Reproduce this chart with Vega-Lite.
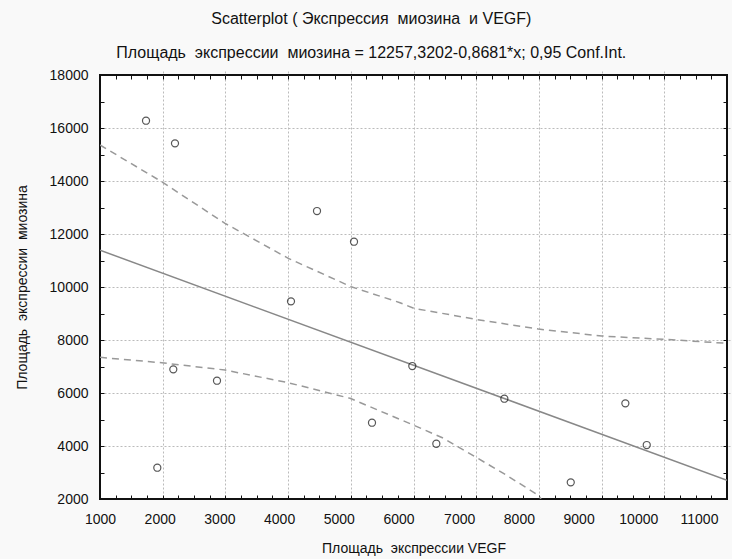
{
  "$schema": "https://vega.github.io/schema/vega-lite/v6.json",
  "width": 627,
  "height": 424,
  "autosize": {"type": "none"},
  "padding": {"left": 100, "top": 75, "right": 5, "bottom": 60},
  "background": "#f9f9f9",
  "config": {
    "font": "Liberation Sans, sans-serif",
    "view": {"fill": "white", "stroke": "#111", "strokeWidth": 2},
    "axis": {
      "labelFont": "Liberation Sans, sans-serif",
      "titleFont": "Liberation Sans, sans-serif",
      "labelFontSize": 14,
      "titleFontSize": 14,
      "titleFontWeight": "normal",
      "labelColor": "#111",
      "titleColor": "#111",
      "domain": false,
      "tickColor": "#111",
      "tickSize": 4,
      "offset": -4,
      "labelFlush": false,
      "gridColor": "#bbbbbb",
      "gridDash": [2, 2],
      "gridWidth": 1
    }
  },
  "title": {
    "text": "Scatterplot ( Экспрессия \u00a0миозина \u00a0и VEGF)",
    "subtitle": "Площадь \u00a0экспрессии \u00a0миозина = 12257,3202-0,8681*x; 0,95 Conf.Int.",
    "anchor": "middle",
    "frame": "bounds",
    "font": "Liberation Sans, sans-serif",
    "subtitleFont": "Liberation Sans, sans-serif",
    "fontSize": 16,
    "subtitleFontSize": 16,
    "fontWeight": "normal",
    "color": "#111",
    "subtitleColor": "#111",
    "offset": 7,
    "subtitlePadding": 18
  },
  "datasets": {
    "points": [
      {"vegf": 1734, "myosin": 16275},
      {"vegf": 2196, "myosin": 15422},
      {"vegf": 4461, "myosin": 12867},
      {"vegf": 5051, "myosin": 11709},
      {"vegf": 4046, "myosin": 9459},
      {"vegf": 5981, "myosin": 7018},
      {"vegf": 6364, "myosin": 4085},
      {"vegf": 7449, "myosin": 5784},
      {"vegf": 8508, "myosin": 2628},
      {"vegf": 9379, "myosin": 5610},
      {"vegf": 9720, "myosin": 4036},
      {"vegf": 5338, "myosin": 4878},
      {"vegf": 2169, "myosin": 6893},
      {"vegf": 2866, "myosin": 6463},
      {"vegf": 1914, "myosin": 3180}
    ],
    "fit": [
      {"vegf": 1000, "myosin": 11389},
      {"vegf": 11000, "myosin": 2708}
    ],
    "ci": [
      {"band": "upper", "vegf": 1000, "myosin": 15358},
      {"band": "upper", "vegf": 1984, "myosin": 13973},
      {"band": "upper", "vegf": 2994, "myosin": 12403},
      {"band": "upper", "vegf": 4003, "myosin": 11082},
      {"band": "upper", "vegf": 5005, "myosin": 10011},
      {"band": "upper", "vegf": 5785, "myosin": 9407},
      {"band": "upper", "vegf": 6008, "myosin": 9195},
      {"band": "upper", "vegf": 6992, "myosin": 8779},
      {"band": "upper", "vegf": 7991, "myosin": 8414},
      {"band": "upper", "vegf": 9002, "myosin": 8150},
      {"band": "upper", "vegf": 10000, "myosin": 8025},
      {"band": "upper", "vegf": 11000, "myosin": 7874},
      {"band": "lower", "vegf": 1000, "myosin": 7346},
      {"band": "lower", "vegf": 1984, "myosin": 7142},
      {"band": "lower", "vegf": 2994, "myosin": 6867},
      {"band": "lower", "vegf": 4003, "myosin": 6388},
      {"band": "lower", "vegf": 4988, "myosin": 5799},
      {"band": "lower", "vegf": 5997, "myosin": 4791},
      {"band": "lower", "vegf": 6471, "myosin": 4300},
      {"band": "lower", "vegf": 6981, "myosin": 3595},
      {"band": "lower", "vegf": 7428, "myosin": 2979},
      {"band": "lower", "vegf": 7986, "myosin": 2149},
      {"band": "lower", "vegf": 8034, "myosin": 2000}
    ]
  },
  "layer": [
    {
      "data": {"name": "fit"},
      "mark": {"type": "line", "color": "#888888", "strokeWidth": 1.5, "clip": true},
      "encoding": {
        "x": {
          "field": "vegf", "type": "quantitative",
          "scale": {"domain": [1000, 11000], "nice": false, "zero": false},
          "axis": {
            "orient": "bottom",
            "title": "Площадь \u00a0экспрессии VEGF",
            "titlePadding": 15,
            "values": [1000,1250,1500,1750,2000,2250,2500,2750,3000,3250,3500,3750,4000,4250,4500,4750,5000,5250,5500,5750,6000,6250,6500,6750,7000,7250,7500,7750,8000,8250,8500,8750,9000,9250,9500,9750,10000,10250,10500,10750,11000],
            "format": "d",
            "labelExpr": "datum.value % 1000 === 0 ? datum.label : ''",
            "labelAlign": "center",
            "labelPadding": 13,
            "labelOffset": {
              "condition": [
                {"test": "datum.value === 2000", "value": -3},
                {"test": "datum.value === 3000", "value": -6},
                {"test": "datum.value === 4000", "value": -9},
                {"test": "datum.value === 5000", "value": -12},
                {"test": "datum.value === 6000", "value": -15},
                {"test": "datum.value === 7000", "value": -17},
                {"test": "datum.value === 8000", "value": -20},
                {"test": "datum.value === 9000", "value": -23},
                {"test": "datum.value === 10000", "value": -26},
                {"test": "datum.value === 11000", "value": -28}
              ],
              "value": 0
            },
            "grid": true,
            "gridOpacity": {"condition": {"test": "datum.value % 1000 === 0 && datum.value > 1000 && datum.value < 11000", "value": 1}, "value": 0}
          }
        },
        "y": {
          "field": "myosin", "type": "quantitative",
          "scale": {"domain": [2000, 18000], "nice": false, "zero": false},
          "axis": {
            "orient": "left",
            "title": "Площадь \u00a0экспрессии \u00a0миозина",
            "titlePadding": 20,
            "values": [2000,3000,4000,5000,6000,7000,8000,9000,10000,11000,12000,13000,14000,15000,16000,17000,18000],
            "format": "d",
            "labelExpr": "datum.value % 2000 === 0 ? datum.label : ''",
            "labelPadding": 12,
            "grid": true,
            "gridOpacity": {"condition": {"test": "datum.value % 2000 === 0 && datum.value > 2000 && datum.value < 18000", "value": 1}, "value": 0}
          }
        }
      }
    },
    {
      "data": {"name": "ci"},
      "mark": {"type": "line", "color": "#999999", "strokeWidth": 1.5, "strokeDash": [7, 5], "clip": true},
      "encoding": {
        "detail": {"field": "band"},
        "x": {
          "field": "vegf", "type": "quantitative",
          "axis": {
            "orient": "top",
            "title": null,
            "labels": false,
            "grid": false,
            "values": [1000,1250,1500,1750,2000,2250,2500,2750,3000,3250,3500,3750,4000,4250,4500,4750,5000,5250,5500,5750,6000,6250,6500,6750,7000,7250,7500,7750,8000,8250,8500,8750,9000,9250,9500,9750,10000,10250,10500,10750,11000]
          }
        },
        "y": {
          "field": "myosin", "type": "quantitative",
          "axis": {
            "orient": "right",
            "title": null,
            "labels": false,
            "grid": false,
            "values": [2000,3000,4000,5000,6000,7000,8000,9000,10000,11000,12000,13000,14000,15000,16000,17000,18000]
          }
        }
      }
    },
    {
      "data": {"name": "points"},
      "mark": {"type": "point", "shape": "circle", "filled": false, "color": "#111", "size": 50, "strokeWidth": 1.2},
      "encoding": {
        "x": {"field": "vegf", "type": "quantitative", "axis": null},
        "y": {"field": "myosin", "type": "quantitative", "axis": null}
      }
    }
  ],
  "resolve": {"axis": {"x": "independent", "y": "independent"}}
}
